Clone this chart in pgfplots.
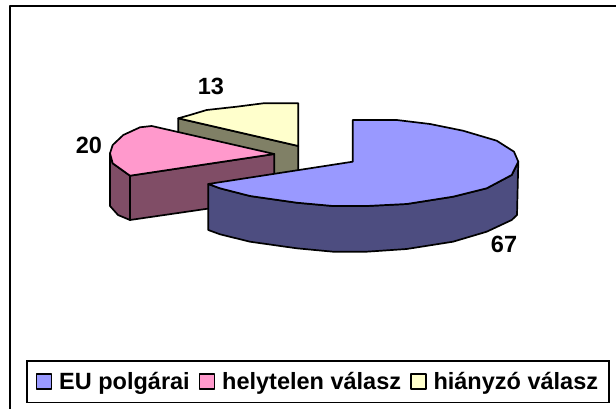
\documentclass[border=0pt]{standalone}
\usepackage{pgfplots}
\pgfplotsset{compat=1.18}
\usepackage{fontspec}
\setmainfont{Liberation Sans}
\definecolor{cblue}{HTML}{9999FF}
\definecolor{cbluedark}{HTML}{4D4D80}
\definecolor{cpink}{HTML}{FF99CC}
\definecolor{cpinkdark}{HTML}{804D66}
\definecolor{cyel}{HTML}{FFFFCC}
\definecolor{cyeldark}{HTML}{808066}
\begin{document}
\begin{tikzpicture}
\begin{axis}[
  x=1pt,y=1pt,scale only axis,width=616pt,height=409pt,
  xmin=0,xmax=616,ymin=0,ymax=409,y dir=reverse,
  hide axis,clip=false,
  every axis plot/.append style={draw=black,line width=1.7pt,line join=round},
  legend columns=3,
  legend style={at={(axis cs:26,360)},anchor=north west,draw=black,line width=1.6pt,
    font=\bfseries\fontsize{23.5}{25}\selectfont,inner xsep=9pt,inner ysep=9.5pt,
    /tikz/every even column/.style={column sep=7pt},
    /tikz/every odd column/.style={column sep=5pt}},
  legend cell align=left,
  legend image code/.code={\draw[#1,line width=1.4pt] (0pt,-7.5pt) rectangle (15pt,7.5pt);},
]
\addlegendimage{fill=cblue,draw=black}\addlegendentry{EU polgárai}
\addlegendimage{fill=cpink,draw=black}\addlegendentry{helytelen válasz}
\addlegendimage{fill=cyel,draw=black}\addlegendentry{hiányzó válasz}
\path[use as bounding box] (axis cs:0,0) rectangle (axis cs:616,409);
% frame
\addplot[forget plot,draw=black,line width=1.7pt] coordinates {(10,409)(10,6)(616,6)};
% yellow slice
\addplot[forget plot,fill=cyeldark] coordinates {(178.3,118.3)(298.3,146)(298.3,191)(178.3,164)} -- cycle;
\addplot[forget plot,fill=cyel] coordinates {(298.3,146)(298.3,103.3)(263.3,103.3)(236.7,106.7)(206.7,110)(190,115)(178.3,118.3)} -- cycle;
% pink slice
\addplot[forget plot,fill=cpinkdark] coordinates {(110,153.3)(112.7,163.3)(130,175.7)(130,220)(118,215)(110,206)} -- cycle;
\addplot[forget plot,fill=cpinkdark] coordinates {(130,175.7)(274.3,154)(274.3,199)(130,220)} -- cycle;
\addplot[forget plot,fill=cpink] coordinates {(274.3,154)(151.7,126)(140,127.3)(123.3,135)(112.7,145)(110,153.3)(112.7,163.3)(130,175.7)} -- cycle;
% blue slice
\addplot[forget plot,fill=cbluedark] coordinates {(518.3,161.7)(511.7,175)(486.7,188.3)(453,196.7)(406.7,204)(366.7,206)(333,206)(296.7,202.7)(250,196)(220,188.3)(208.3,184)(208.3,230)(220,234.3)(250,241.7)(296.7,248.3)(333,251.7)(366.7,251.7)(406.7,249)(453,241.7)(486.7,231.7)(511.7,220)(517,215)} -- cycle;
\addplot[forget plot,fill=cblue] coordinates {(352.7,161.7)(352.7,120)(396.7,120)(430,124)(463,130.7)(496.7,140.7)(514,151.7)(518.3,161.7)(511.7,175)(486.7,188.3)(453,196.7)(406.7,204)(366.7,206)(333,206)(296.7,202.7)(250,196)(220,188.3)(208.3,184)} -- cycle;
\node[font=\bfseries\fontsize{23.5}{25}\selectfont] at (axis cs:211,86) {13};
\node[font=\bfseries\fontsize{23.5}{25}\selectfont] at (axis cs:89,145) {20};
\node[font=\bfseries\fontsize{23.5}{25}\selectfont] at (axis cs:504,244) {67};
\end{axis}
\end{tikzpicture}
\end{document}
